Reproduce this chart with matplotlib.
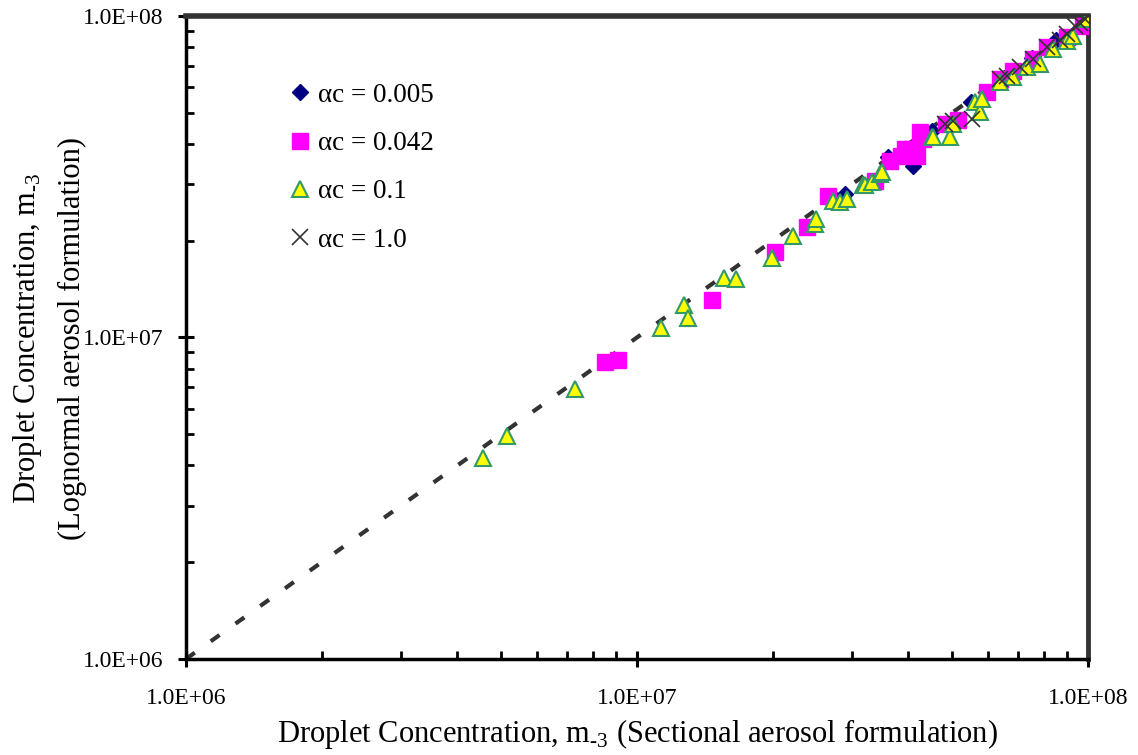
import matplotlib.pyplot as plt
from matplotlib.ticker import FixedLocator, FuncFormatter, NullFormatter


# alpha_c = 0.005 (mostly hidden under the other series)
diam_x = [2.90e7, 3.60e7, 4.09e7, 4.50e7, 5.50e7, 6.50e7, 7.50e7, 8.50e7, 9.80e7]
diam_y = [2.80e7, 3.64e7, 3.41e7, 4.40e7, 5.40e7, 6.40e7, 7.40e7, 8.40e7, 9.80e7]

# alpha_c = 0.042
sq_x = [8.49e6, 9.07e6, 1.47e7, 2.02e7, 2.38e7, 2.65e7, 3.37e7, 3.64e7, 3.85e7, 3.93e7,
        4.07e7, 4.18e7, 4.24e7, 4.31e7, 4.84e7, 5.15e7, 5.97e7, 6.38e7, 6.82e7, 7.55e7,
        8.11e7, 8.98e7, 9.75e7]
sq_y = [8.36e6, 8.53e6, 1.31e7, 1.85e7, 2.20e7, 2.75e7, 3.06e7, 3.53e7, 3.66e7, 3.85e7,
        3.85e7, 3.66e7, 4.35e7, 4.14e7, 4.61e7, 4.74e7, 5.80e7, 6.37e7, 6.74e7, 7.35e7,
        8.00e7, 8.60e7, 9.31e7]

# alpha_c = 0.1
tri_x = [4.56e6, 5.15e6, 7.29e6, 1.13e7, 1.27e7, 1.30e7, 1.56e7, 1.66e7, 1.99e7, 2.22e7,
         2.48e7, 2.50e7, 2.72e7, 2.82e7, 2.92e7, 3.17e7, 3.20e7, 3.32e7, 3.46e7, 3.49e7,
         4.51e7, 4.53e7, 4.94e7, 5.02e7, 5.62e7, 5.76e7, 5.82e7, 6.38e7, 6.82e7, 7.32e7,
         7.83e7, 8.36e7, 8.98e7, 9.26e7, 9.95e7]
tri_y = [4.23e6, 4.95e6, 6.89e6, 1.07e7, 1.26e7, 1.15e7, 1.53e7, 1.52e7, 1.77e7, 2.07e7,
         2.25e7, 2.33e7, 2.65e7, 2.63e7, 2.69e7, 2.99e7, 2.99e7, 3.04e7, 3.22e7, 3.27e7,
         4.20e7, 4.20e7, 4.20e7, 4.61e7, 5.40e7, 5.02e7, 5.51e7, 6.23e7, 6.46e7, 6.93e7,
         7.08e7, 7.89e7, 8.36e7, 8.66e7, 9.79e7]

# alpha_c = 1.0
x_x = [4.82e7, 5.02e7, 5.53e7, 6.38e7, 6.60e7, 7.07e7, 7.55e7, 8.11e7, 8.66e7, 9.00e7,
       9.35e7, 9.60e7, 9.85e7, 1.00e8]
x_y = [4.61e7, 4.71e7, 4.78e7, 6.37e7, 6.50e7, 6.93e7, 7.35e7, 8.00e7, 8.40e7, 8.80e7,
       9.31e7, 9.50e7, 9.79e7, 1.00e8]

one_to_one = [1e6, 1e8]
major_ticks = [1e6, 1e7, 1e8]


def sci_label(v, pos):
    return f"{v:.1E}"


def main():
    plt.rcParams["font.family"] = ["Liberation Serif", "DejaVu Serif"]
    plt.rcParams["mathtext.fontset"] = "custom"
    plt.rcParams["mathtext.rm"] = "Liberation Serif"

    fig = plt.figure(figsize=(11.38, 7.55), dpi=100)
    ax = fig.add_axes([0.1634, 0.1272, 0.7926, 0.8516])
    ax.set_xscale("log")
    ax.set_yscale("log")

    ax.plot(one_to_one, one_to_one, color="#333333", lw=3, dashes=(2.6, 4.7), zorder=1)

    ax.plot(diam_x, diam_y, ls="none", marker="D", ms=8, color="#000080",
            label="\u03b1c = 0.005", zorder=2)
    ax.plot(sq_x, sq_y, ls="none", marker="s", ms=11, color="#ff00ff",
            label="\u03b1c = 0.042", zorder=3)
    ax.plot(tri_x, tri_y, ls="none", marker="^", ms=11, mfc="#ffff00", mec="#339966",
            mew=1.5, label="\u03b1c = 0.1", zorder=4)
    ax.plot(x_x, x_y, ls="none", marker="x", ms=11, mew=1.2, color="#333333",
            label="\u03b1c = 1.0", zorder=5)

    ax.set_xlim(1e6, 1e8)
    ax.set_ylim(1e6, 1e8)

    for axis in (ax.xaxis, ax.yaxis):
        axis.set_major_locator(FixedLocator(major_ticks))
        axis.set_major_formatter(FuncFormatter(sci_label))
        axis.set_minor_formatter(NullFormatter())
    ax.tick_params(which="major", direction="inout", length=12, width=2.2,
                   labelsize=17, top=False, right=False)
    ax.tick_params(axis="x", which="major", pad=15)
    ax.tick_params(axis="y", which="major", pad=10)
    ax.tick_params(which="minor", direction="in", length=6, width=2,
                   top=False, right=False)

    ax.spines["left"].set_linewidth(2.5)
    ax.spines["bottom"].set_linewidth(2.5)
    ax.spines["top"].set_linewidth(4)
    ax.spines["right"].set_linewidth(3.5)
    ax.spines["top"].set_color("#333333")
    ax.spines["right"].set_color("#333333")

    sub = "m$_{\\mathregular{\u20103}}$"
    ax.set_xlabel(f"Droplet Concentration, {sub} (Sectional aerosol formulation)",
                  fontsize=22, labelpad=6)
    # y label: two lines placed apart like the original
    fig.text(28 / 1138, 1 - 338 / 755, f"Droplet Concentration, {sub}",
             rotation=90, ha="center", va="center", fontsize=22)
    fig.text(72 / 1138, 1 - 338 / 755, "(Lognormal aerosol formulation)",
             rotation=90, ha="center", va="center", fontsize=22)

    ax.legend(loc="upper left", bbox_to_anchor=(0.0995, 0.913), frameon=False, fontsize=19.5,
              labelspacing=0.86, handletextpad=0.15, handlelength=1.0, borderaxespad=0)

    fig.savefig("out.png", dpi=100)
    plt.close(fig)


if __name__ == "__main__":
    main()
